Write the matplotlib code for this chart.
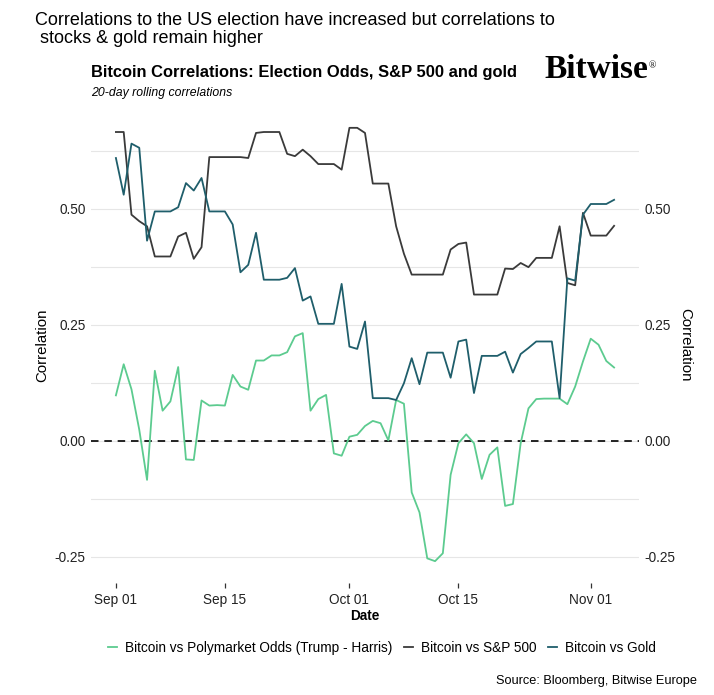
import numpy as np
import pandas as pd
import matplotlib
matplotlib.use("Agg")
import matplotlib.pyplot as plt
import matplotlib.dates as mdates

# ==============================================================================
# DADOS (20-day rolling correlations)
# ==============================================================================
dates = pd.date_range("2024-09-01", "2024-11-04", freq="D")

polymarket = [
    0.098, 0.165, 0.111, 0.024, -0.084, 0.151, 0.065, 0.085, 0.159, -0.040,
    -0.041, 0.087, 0.076, 0.077, 0.076, 0.142, 0.117, 0.110, 0.173, 0.173,
    0.184, 0.184, 0.191, 0.225, 0.232, 0.065, 0.090, 0.099, -0.027, -0.032,
    0.009, 0.013, 0.032, 0.043, 0.038, 0.001, 0.088, 0.080, -0.111, -0.154,
    -0.253, -0.259, -0.242, -0.073, -0.005, 0.014, -0.005, -0.082, -0.030, -0.014,
    -0.140, -0.136, -0.005, 0.070, 0.090, 0.091, 0.091, 0.091, 0.079, 0.117,
    0.171, 0.220, 0.207, 0.172, 0.158,
]

sp500 = [
    0.665, 0.665, 0.487, 0.473, 0.462, 0.397, 0.397, 0.397, 0.440, 0.448,
    0.392, 0.417, 0.611, 0.611, 0.611, 0.611, 0.611, 0.609, 0.663, 0.665,
    0.665, 0.665, 0.618, 0.613, 0.627, 0.613, 0.596, 0.596, 0.596, 0.584,
    0.674, 0.674, 0.663, 0.554, 0.554, 0.554, 0.462, 0.403, 0.358, 0.358,
    0.358, 0.358, 0.358, 0.412, 0.424, 0.427, 0.315, 0.315, 0.315, 0.315,
    0.371, 0.370, 0.383, 0.374, 0.394, 0.394, 0.394, 0.462, 0.340, 0.335,
    0.491, 0.442, 0.442, 0.442, 0.463,
]

gold = [
    0.609, 0.530, 0.640, 0.631, 0.431, 0.494, 0.494, 0.494, 0.503, 0.555,
    0.539, 0.566, 0.494, 0.494, 0.494, 0.466, 0.363, 0.379, 0.448, 0.347,
    0.347, 0.347, 0.351, 0.372, 0.302, 0.311, 0.252, 0.252, 0.252, 0.338,
    0.203, 0.198, 0.257, 0.092, 0.092, 0.092, 0.088, 0.124, 0.178, 0.122,
    0.190, 0.190, 0.190, 0.136, 0.214, 0.218, 0.103, 0.183, 0.183, 0.183,
    0.192, 0.147, 0.187, 0.200, 0.214, 0.214, 0.214, 0.092, 0.350, 0.345,
    0.487, 0.510, 0.510, 0.510, 0.519,
]

series_labels = [
    "Bitcoin vs Polymarket Odds (Trump - Harris)",
    "Bitcoin vs S&P 500",
    "Bitcoin vs Gold",
]
series_colors = ["#5ccb8f", "#3a3a3a", "#1f5e6b"]

y_ticks = [-0.25, 0.0, 0.25, 0.50]
y_minor = [-0.125, 0.125, 0.375, 0.625]
x_ticks = ["2024-09-01", "2024-09-15", "2024-10-01", "2024-10-15", "2024-11-01"]

# ==============================================================================
# FIGURA
# ==============================================================================
plt.rcParams["font.family"] = ["Liberation Sans", "DejaVu Sans"]

W, H = 714, 695
fig = plt.figure(figsize=(W / 100, H / 100), dpi=100)

# área do painel em pixels (esq, dir, topo, base)
px_l, px_r, px_t, px_b = 91, 639, 106, 583
ax = fig.add_axes([px_l / W, 1 - px_b / H, (px_r - px_l) / W, (px_b - px_t) / H])

for vals, lab, col in zip([polymarket, sp500, gold], series_labels, series_colors):
    ax.plot(dates, vals, color=col, lw=1.3, label=lab, zorder=3)

ax.axhline(0, color="black", lw=1.2, ls=(0, (4.5, 3.5)), zorder=2)

# limites com expansão tipo ggplot
x0 = pd.Timestamp("2024-09-01")
ax.set_xlim(x0 - pd.Timedelta(days=3.2), x0 + pd.Timedelta(days=67.2))
ax.set_ylim(-0.306, 0.721)

for s in ax.spines.values():
    s.set_visible(False)

ax.set_yticks(y_ticks)
ax.set_yticks(y_minor, minor=True)
ax.set_yticklabels([f"{v:.2f}" for v in y_ticks])
ax.grid(axis="y", which="both", color="#e6e6e6", lw=0.8, zorder=0)
ax.tick_params(axis="y", which="both", length=0, labelsize=9.8, colors="#222222",
               labelright=True, pad=4)

ax.set_xticks(pd.to_datetime(x_ticks))
ax.xaxis.set_major_formatter(mdates.DateFormatter("%b %d"))
ax.tick_params(axis="x", length=3.5, width=0.9, color="#333333", labelsize=9.8,
               labelcolor="#222222", pad=4)
ax.xaxis.set_minor_locator(plt.NullLocator())

ax.set_xlabel("Date", fontsize=9.8, fontweight="bold", labelpad=1)

# rótulos dos eixos y (esquerda e direita)
fig.text(42 / W, 1 - 345 / H, "Correlation", rotation=90, fontsize=10.8,
         ha="center", va="center")
fig.text(685 / W, 1 - 345 / H, "Correlation", rotation=270, fontsize=10.8,
         ha="center", va="center")

# títulos
fig.text(35 / W, 1 - 12 / H,
         "Correlations to the US election have increased but correlations to\n stocks & gold remain higher",
         fontsize=13, ha="left", va="top", linespacing=1.1)
fig.text(91 / W, 1 - 72 / H, "Bitcoin Correlations: Election Odds, S&P 500 and gold",
         fontsize=11.9, fontweight="bold", ha="left", va="center")
fig.text(91 / W, 1 - 93 / H, "20-day rolling correlations", fontsize=8.8,
         style="italic", ha="left", va="center")
fig.text(544 / W, 1 - 70 / H, "Bitwise", fontsize=24, family="Liberation Serif",
         fontweight="bold", ha="left", va="center")
fig.text(649 / W, 1 - 66 / H, "®", fontsize=7, family="Liberation Serif",
         ha="left", va="center")

# legenda
leg = fig.legend(loc="center", bbox_to_anchor=(382 / W, 1 - 648 / H), ncol=3,
                 frameon=False, fontsize=9.8, handlelength=0.7, handletextpad=0.6,
                 columnspacing=0.8)

fig.text(697 / W, 1 - 681 / H, "Source: Bloomberg, Bitwise Europe", fontsize=9.2,
         ha="right", va="center")

fig.savefig("out.png", dpi=100, facecolor="white")
